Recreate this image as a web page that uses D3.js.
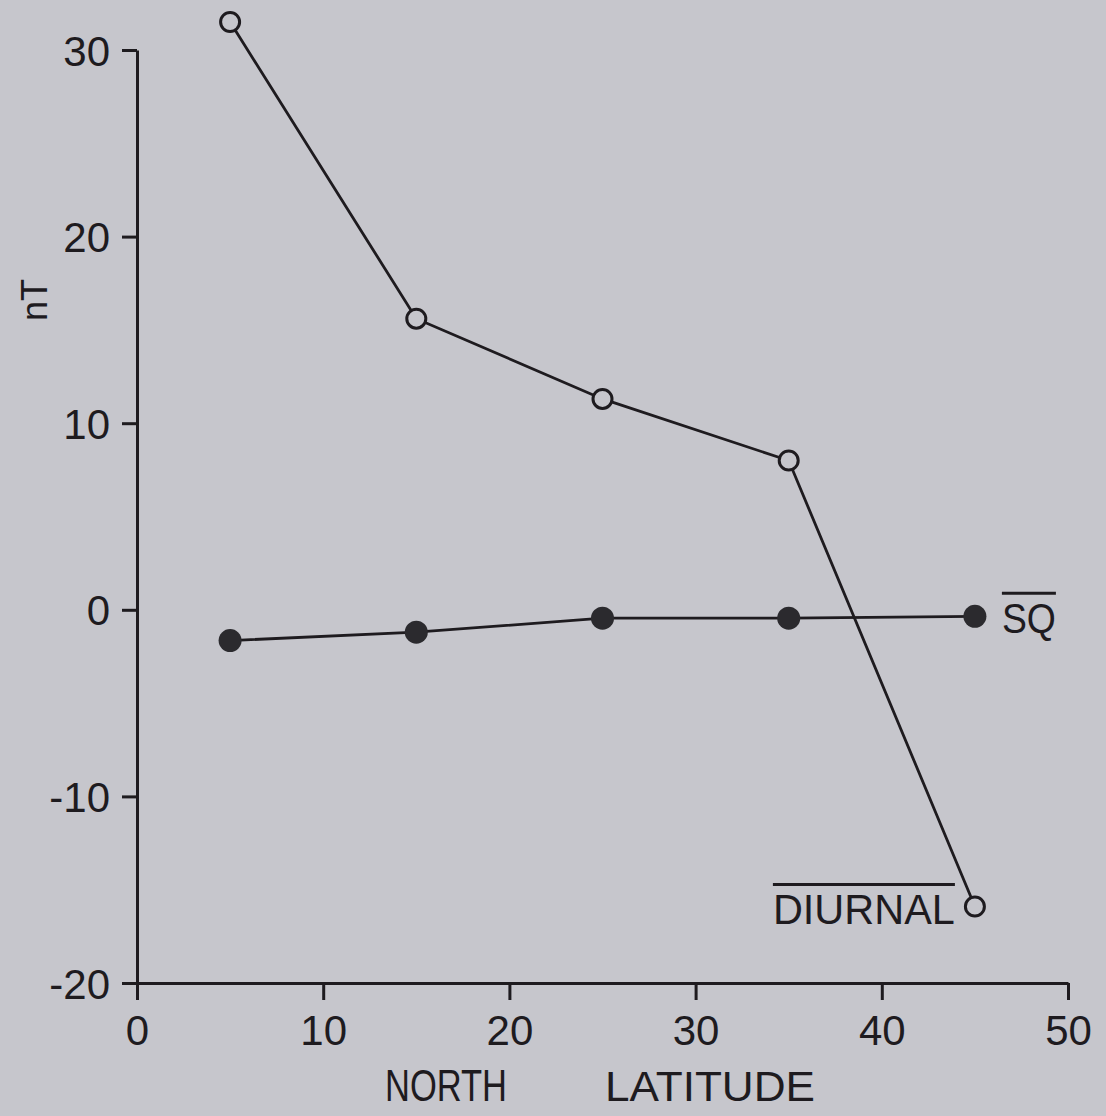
<!DOCTYPE html>
<html>
<head>
<meta charset="utf-8">
<script src="https://cdn.jsdelivr.net/npm/d3@7"></script>
<style>
  html, body { margin: 0; padding: 0; background: #c6c6cc; }
  svg { display: block; }
  text { font-family: "Liberation Sans", Arial, sans-serif; fill: #1e1b1f; }
</style>
</head>
<body>
<div id="chart"></div>
<script>
// values
let latitudes = [5, 15, 25, 35, 45];
let diurnal = [31.5, 15.6, 11.3, 8.0, -15.9];
let sq = [-1.65, -1.2, -0.45, -0.45, -0.35];
let xTicks = [0, 10, 20, 30, 40, 50];
let yTicks = [-20, -10, 0, 10, 20, 30];

let ink = "#1e1b1f";
let width = 1106, height = 1116;

let svg = d3.select("#chart").append("svg")
    .attr("width", width)
    .attr("height", height);

let x = d3.scaleLinear().domain([0, 50]).range([137, 1068]);
let y = d3.scaleLinear().domain([-20, 30]).range([983, 50]);

// axes
let yAxis = svg.append("g")
    .attr("transform", `translate(${x(0)},0)`)
    .call(d3.axisLeft(y).tickValues(yTicks).tickSize(15).tickSizeOuter(0).tickPadding(12)
        .tickFormat(d => d));
let xAxis = svg.append("g")
    .attr("transform", `translate(0,${y(-20)})`)
    .call(d3.axisBottom(x).tickValues(xTicks).tickSize(17).tickSizeOuter(0).tickPadding(15)
        .tickFormat(d => d));

[yAxis, xAxis].forEach(g => {
    g.select(".domain").attr("stroke", ink).attr("stroke-width", 3);
    g.selectAll(".tick line").attr("stroke", ink).attr("stroke-width", 3);
    g.selectAll(".tick text")
        .style("font-size", "42px")
        .style("font-family", "'Liberation Sans', Arial, sans-serif")
        .attr("fill", ink);
});
yAxis.selectAll(".tick text").attr("dy", "0.36em");
// short hyphen for negatives, like the lettering guide
yAxis.selectAll(".tick text").text(d => d < 0 ? "-" + Math.abs(d) : d);

// axis titles
svg.append("text")
    .attr("x", 385).attr("y", 1101)
    .attr("textLength", 122).attr("lengthAdjust", "spacingAndGlyphs")
    .style("font-size", "44px")
    .text("NORTH");
svg.append("text")
    .attr("x", 605).attr("y", 1101)
    .attr("textLength", 210).attr("lengthAdjust", "spacingAndGlyphs")
    .style("font-size", "43px")
    .text("LATITUDE");
svg.append("text")
    .attr("transform", "translate(47,300) rotate(-90)")
    .attr("text-anchor", "middle")
    .style("font-size", "36px")
    .text("nT");

// lines
let line = d3.line()
    .x((d, i) => x(latitudes[i]))
    .y(d => y(d));

svg.append("path")
    .datum(diurnal)
    .attr("d", line)
    .attr("fill", "none")
    .attr("stroke", ink)
    .attr("stroke-width", 2.8);

svg.append("path")
    .datum(sq)
    .attr("d", line)
    .attr("fill", "none")
    .attr("stroke", ink)
    .attr("stroke-width", 2.8);

// markers
svg.selectAll("circle.diurnal")
    .data(diurnal)
    .enter()
    .append("circle")
    .attr("class", "diurnal")
    .attr("cx", (d, i) => x(latitudes[i]))
    .attr("cy", d => y(d))
    .attr("r", 9.5)
    .attr("fill", "#c6c6cc")
    .attr("stroke", ink)
    .attr("stroke-width", 3);

svg.selectAll("circle.sq")
    .data(sq)
    .enter()
    .append("circle")
    .attr("class", "sq")
    .attr("cx", (d, i) => x(latitudes[i]))
    .attr("cy", d => y(d))
    .attr("r", 11.5)
    .attr("fill", "#2b2a2e");

// series labels with overbars
function overLabel(txt, px, py, anchor, len) {
    let t = svg.append("text")
        .attr("x", px).attr("y", py)
        .attr("text-anchor", anchor)
        .attr("textLength", len).attr("lengthAdjust", "spacingAndGlyphs")
        .style("font-size", "43px")
        .text(txt);
    let b = t.node().getBBox();
    svg.append("line")
        .attr("x1", b.x).attr("x2", b.x + b.width)
        .attr("y1", py - 40).attr("y2", py - 40)
        .attr("stroke", ink)
        .attr("stroke-width", 3);
}

let last = latitudes.length - 1;
overLabel("SQ", x(latitudes[last]) + 27, y(sq[last]) + 17, "start", 54);
overLabel("DIURNAL", x(latitudes[last]) - 20, y(diurnal[last]) + 18, "end", 182);
</script>
</body>
</html>
